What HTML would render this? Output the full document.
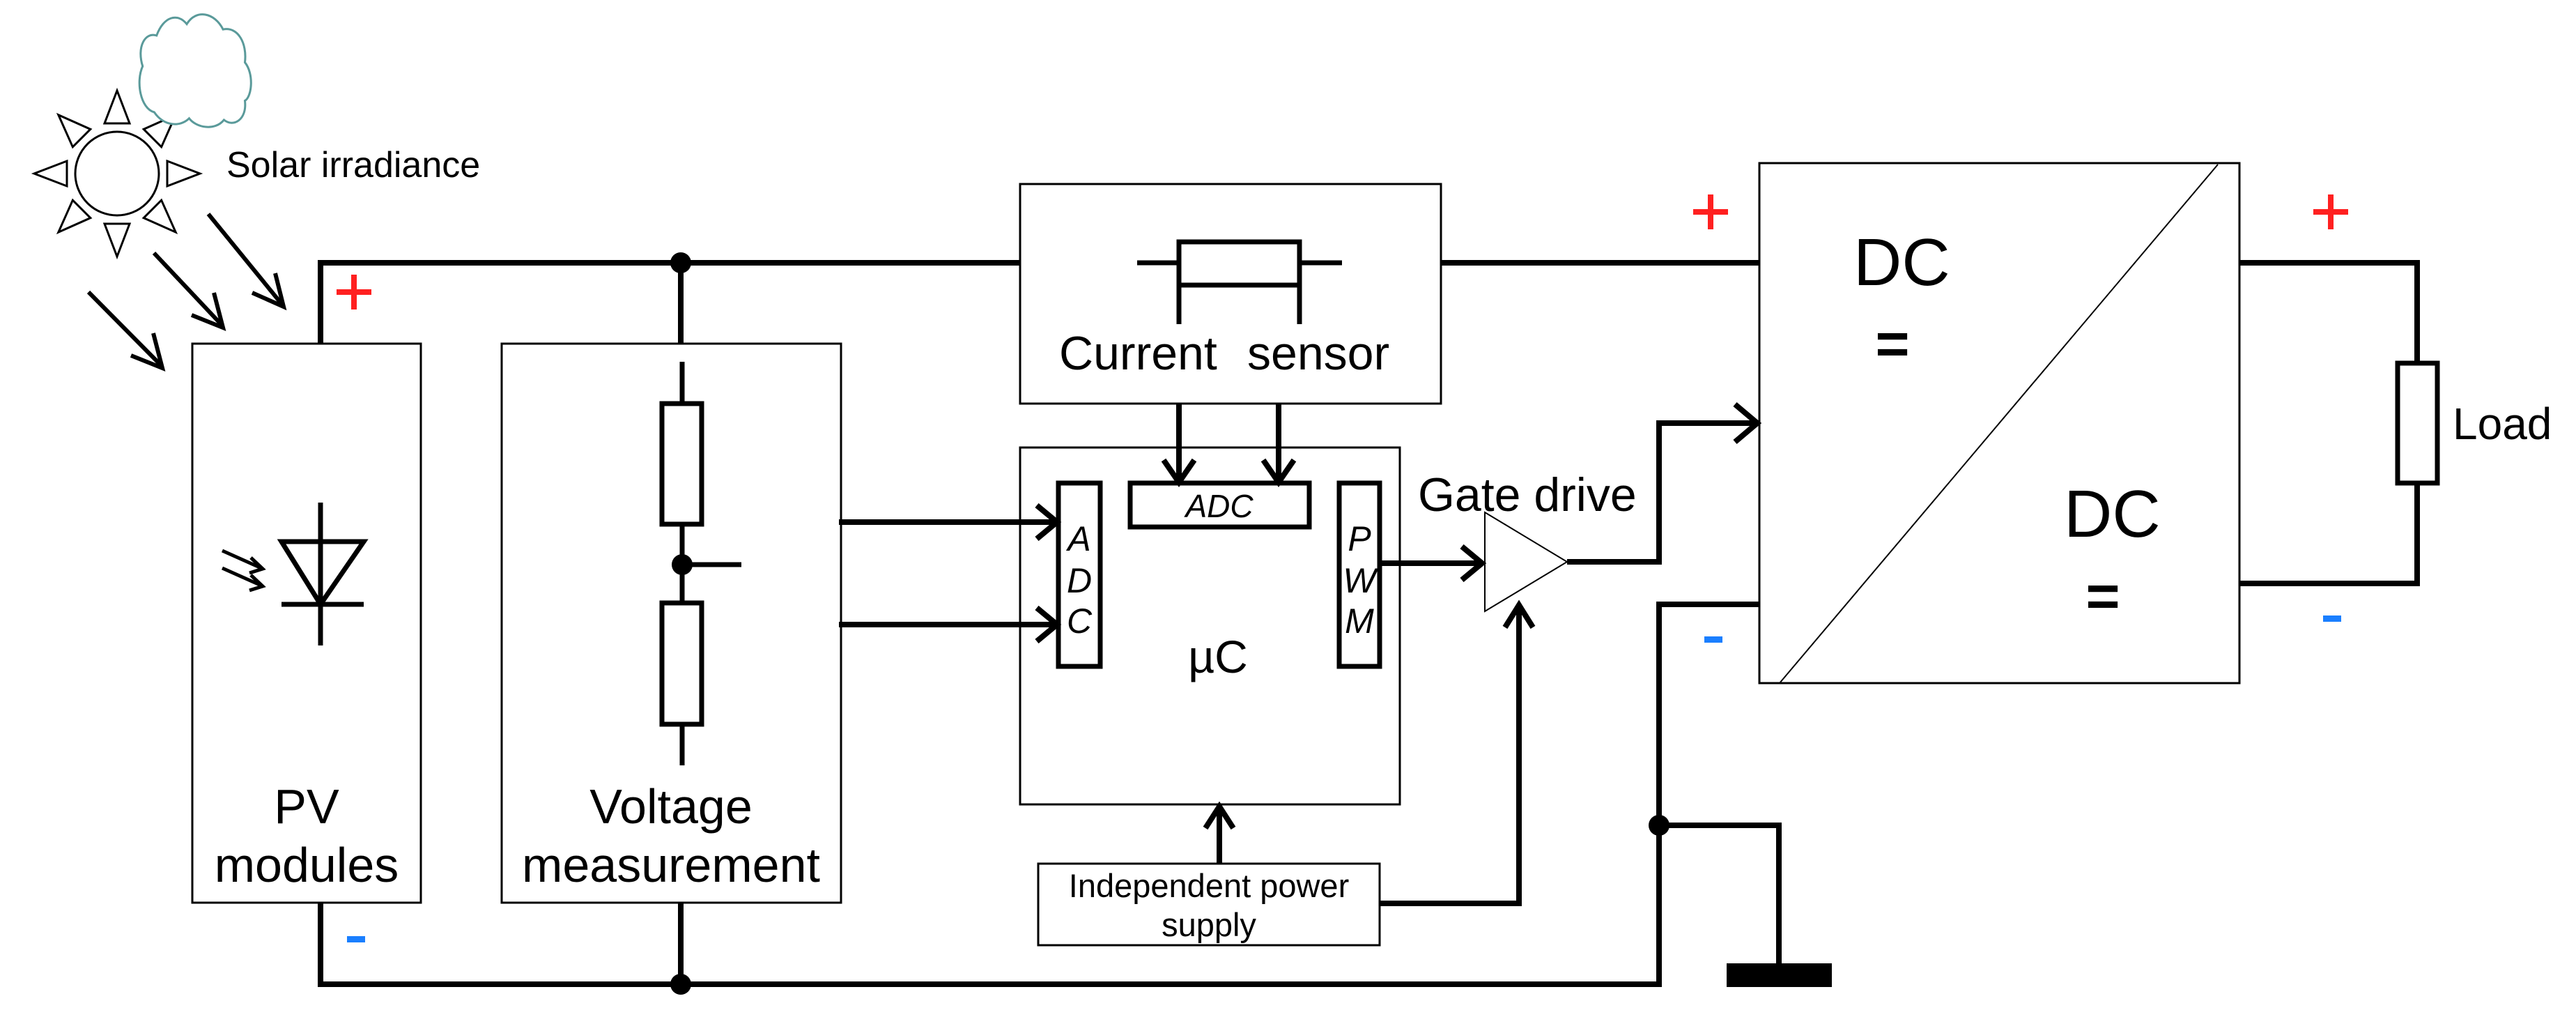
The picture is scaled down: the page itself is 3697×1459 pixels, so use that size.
<!DOCTYPE html>
<html><head><meta charset="utf-8"><style>
html,body{margin:0;padding:0;background:#fff;}
svg{display:block;}
text{font-family:"Liberation Sans",Arial,sans-serif;fill:#000;}
</style></head><body>
<svg width="3697" height="1459" viewBox="0 0 3697 1459" xmlns="http://www.w3.org/2000/svg">
<defs>
<g id="ray"><polygon points="0,-119 -18,-72 18,-72" fill="none" stroke="#000" stroke-width="3"/></g>
</defs>
<!-- sun -->
<g transform="translate(168,249)">
<ellipse cx="0" cy="0" rx="60" ry="60" fill="none" stroke="#000" stroke-width="3"/>
<use href="#ray"/><use href="#ray" transform="rotate(45)"/><use href="#ray" transform="rotate(90)"/><use href="#ray" transform="rotate(135)"/>
<use href="#ray" transform="rotate(180)"/><use href="#ray" transform="rotate(225)"/><use href="#ray" transform="rotate(270)"/><use href="#ray" transform="rotate(315)"/>
</g>
<!-- cloud -->
<path transform="translate(68,-37) scale(0.667,1.1)" vector-effect="non-scaling-stroke" d="M230,180 C200,175 190,140 205,120 C192,95 210,75 235,80 C250,55 280,50 300,65 C320,45 360,50 378,72 C410,68 430,90 425,115 C445,130 440,160 425,165 C430,190 400,200 380,190 C360,205 320,200 305,188 C285,200 250,198 230,180 Z" fill="#fff" stroke="#5a9a9a" stroke-width="3"/>
<text x="325" y="254" font-size="52">Solar irradiance</text>
<!-- sun arrows -->
<g stroke="#000" stroke-width="6" fill="none">
<line x1="299" y1="307" x2="405" y2="437"/><polyline points="395,392 407,440 362,420"/>
<line x1="221" y1="363" x2="319" y2="467"/><polyline points="307,420 320,470 275,452"/>
<line x1="127" y1="419" x2="232" y2="525"/><polyline points="220,478 233,528 188,510"/>
</g>
<!-- wires -->
<g stroke="#000" stroke-width="8" fill="none">
<polyline points="460,493 460,377 1464,377"/>
<line x1="2068" y1="377" x2="2525" y2="377"/>
<line x1="977" y1="377" x2="977" y2="493"/>
<polyline points="460,1295 460,1412 2381,1412 2381,867 2525,867"/>
<line x1="977" y1="1295" x2="977" y2="1412"/>
<polyline points="2381,1184 2553,1184 2553,1382"/>
<polyline points="3214,377 3469,377 3469,521"/>
<polyline points="3469,693 3469,837 3214,837"/>
<polyline points="2249,806 2381,806 2381,607 2520,607"/>
<polyline points="2490,580 2522,607 2490,634"/>
<line x1="1204" y1="749" x2="1515" y2="749"/><polyline points="1488,725 1517,749 1488,773"/>
<line x1="1204" y1="896" x2="1515" y2="896"/><polyline points="1488,872 1517,896 1488,920"/>
<line x1="1692" y1="579" x2="1692" y2="690"/><polyline points="1670,660 1692,692 1714,660"/>
<line x1="1835" y1="579" x2="1835" y2="690"/><polyline points="1813,660 1835,692 1857,660"/>
<line x1="1982" y1="808" x2="2125" y2="808"/><polyline points="2098,784 2127,808 2098,832"/>
<line x1="1750" y1="1239" x2="1750" y2="1160"/><polyline points="1730,1188 1750,1157 1770,1188"/>
<polyline points="1980,1296 2180,1296 2180,870"/><polyline points="2160,900 2180,868 2200,900"/>
</g>
<g fill="#000"><circle cx="977" cy="377" r="15"/><circle cx="977" cy="1412" r="15"/><circle cx="979" cy="810" r="15"/><circle cx="2381" cy="1184" r="15"/></g>
<rect x="2478" y="1382" width="151" height="34" fill="#000"/>
<!-- boxes -->
<g fill="none" stroke="#000" stroke-width="3">
<rect x="276" y="493" width="328" height="802"/>
<rect x="720" y="493" width="487" height="802"/>
<rect x="1464" y="264" width="604" height="315"/>
<rect x="1464" y="642" width="545" height="512"/>
<rect x="1490" y="1239" width="490" height="117"/>
<rect x="2525" y="234" width="689" height="746"/>
<line x1="3183" y1="236" x2="2554" y2="980" stroke-width="2"/>
<polygon points="2131,735 2131,877 2249,806" stroke-width="2"/>
</g>
<!-- resistors etc -->
<g fill="none" stroke="#000" stroke-width="7">
<rect x="950" y="579" width="57" height="173"/>
<rect x="950" y="865" width="57" height="174"/>
<line x1="979" y1="519" x2="979" y2="579"/><line x1="979" y1="752" x2="979" y2="865"/><line x1="979" y1="1039" x2="979" y2="1098"/>
<line x1="979" y1="810" x2="1064" y2="810"/>
<rect x="3441" y="521" width="57" height="172"/>
<rect x="1692" y="347" width="173" height="62"/>
<line x1="1632" y1="377" x2="1692" y2="377"/><line x1="1865" y1="377" x2="1926" y2="377"/>
<line x1="1692" y1="409" x2="1692" y2="465"/><line x1="1865" y1="409" x2="1865" y2="465"/>
<rect x="1519" y="693" width="60" height="263"/>
<rect x="1622" y="693" width="257" height="63"/>
<rect x="1922" y="693" width="58" height="263"/>
<line x1="460" y1="721" x2="460" y2="926"/>
<polygon points="404,777 522,777 460,867"/>
<line x1="404" y1="867" x2="522" y2="867"/>
</g>
<g stroke="#000" stroke-width="5" fill="none">
<line x1="319" y1="790" x2="375" y2="815"/><polyline points="360,800 377,816 358,822"/>
<line x1="319" y1="815" x2="375" y2="840"/><polyline points="360,825 377,841 358,847"/>
</g>
<!-- texts -->
<text x="440" y="1181" font-size="70" text-anchor="middle">PV</text>
<text x="440" y="1265" font-size="70" text-anchor="middle">modules</text>
<text x="963" y="1181" font-size="70" text-anchor="middle">Voltage</text>
<text x="963" y="1265" font-size="70" text-anchor="middle">measurement</text>
<text x="1520" y="530" font-size="68">Current</text><text x="1790" y="530" font-size="68">sensor</text>
<text x="1750" y="742" font-size="46" font-style="italic" text-anchor="middle">ADC</text>
<text x="1549" y="790" font-size="50" font-style="italic" text-anchor="middle">A</text>
<text x="1549" y="850" font-size="50" font-style="italic" text-anchor="middle">D</text>
<text x="1549" y="908" font-size="50" font-style="italic" text-anchor="middle">C</text>
<text x="1951" y="790" font-size="50" font-style="italic" text-anchor="middle">P</text>
<text x="1951" y="850" font-size="50" font-style="italic" text-anchor="middle">W</text>
<text x="1951" y="908" font-size="50" font-style="italic" text-anchor="middle">M</text>
<text x="1748" y="965" font-size="66" text-anchor="middle">µC</text>
<text x="1735" y="1287" font-size="47" text-anchor="middle">Independent power</text>
<text x="1735" y="1343" font-size="47" text-anchor="middle">supply</text>
<text x="2035" y="733" font-size="68">Gate drive</text>
<text x="2660" y="409" font-size="96">DC</text>
<text x="2716" y="522" font-size="84" font-weight="bold" text-anchor="middle">=</text>
<text x="2962" y="770" font-size="96">DC</text>
<text x="3018" y="884" font-size="84" font-weight="bold" text-anchor="middle">=</text>
<text x="3520" y="630" font-size="64">Load</text>
<g fill="#ff2020"><rect x="483" y="415" width="50" height="8"/><rect x="504" y="394" width="8" height="50"/>
<rect x="2430" y="300" width="50" height="8"/><rect x="2451" y="279" width="8" height="50"/>
<rect x="3320" y="300" width="50" height="8"/><rect x="3341" y="279" width="8" height="50"/></g>
<g fill="#1a7fff"><rect x="498" y="1343" width="26" height="9"/><rect x="2446" y="913" width="26" height="9"/><rect x="3334" y="883" width="26" height="9"/></g>
</svg>
</body></html>
